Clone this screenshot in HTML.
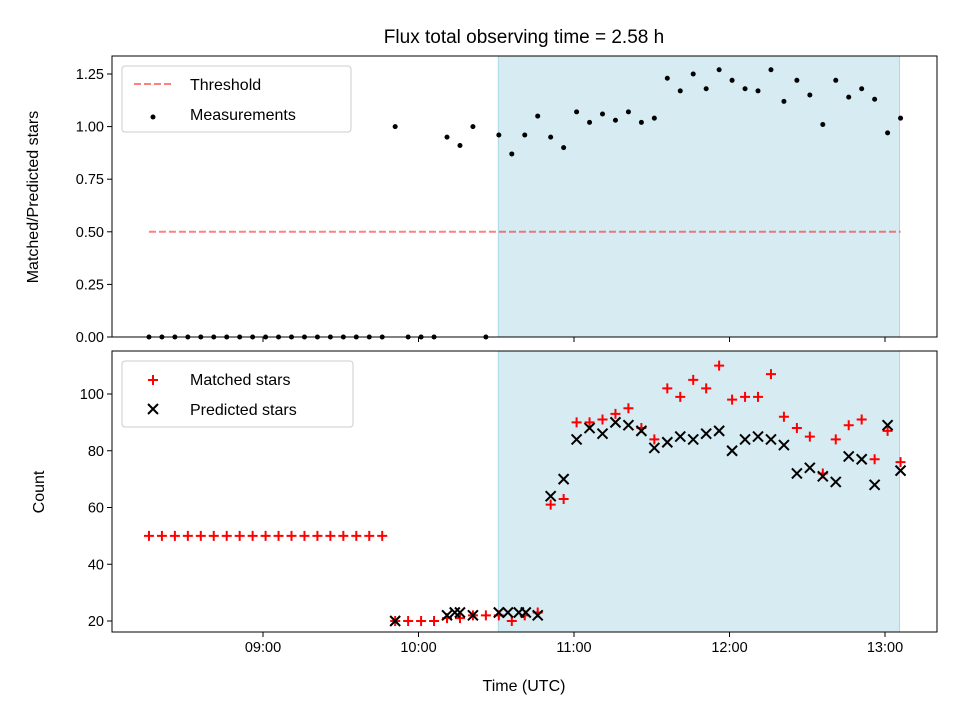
<!DOCTYPE html>
<html><head><meta charset="utf-8"><style>
body{margin:0;background:#fff;}
svg{display:block;font-family:"Liberation Sans","DejaVu Sans",sans-serif;}
</style></head><body>
<svg id="chart" width="960" height="720" viewBox="0 0 960 720"></svg>
<script>
// Times as minutes after 08:16 UTC (5-min cadence)
const ratioValues=[0,0,0,0,0,0,0,0,0,0,0,0,0,0,0,0,0,0,0,1.0,0,0,0,0.95,0.91,1.0,0,0.96,0.87,0.96,1.05,0.95,0.90,1.07,1.02,1.06,1.03,1.07,1.02,1.04,1.23,1.17,1.25,1.18,1.27,1.22,1.18,1.17,1.27,1.12,1.22,1.15,1.01,1.22,1.14,1.18,1.13,0.97,1.04];
const matchedValues=[50,50,50,50,50,50,50,50,50,50,50,50,50,50,50,50,50,50,50,20,20,20,20,21,21,22,22,22,20,22,23,61,63,90,90,91,93,95,88,84,102,99,105,102,110,98,99,99,107,92,88,85,72,84,89,91,77,87,76];
const predTimes=[95,115,118,120,125,135,138.5,142.7,145.4,150,155,160,165,170,175,180,185,190,195,200,205,210,215,220,225,230,235,240,245,250,255,260,265,270,275,280,285,290];
const predValues=[20,22,23,23,22,23,23,23,23,22,64,70,84,88,86,90,89,87,81,83,85,84,86,87,80,84,85,84,82,72,74,71,69,78,77,68,89,73];
const xTickLabels=["09:00","10:00","11:00","12:00","13:00"];
const xTickHours=[9,10,11,12,13];
const topTicks=[0,0.25,0.5,0.75,1.0,1.25];
const botTicks=[20,40,60,80,100];
const threshold=0.5;
const shadeStartMin=134.8, shadeEndMin=289.6;

const svg=document.getElementById('chart');
const NS="http://www.w3.org/2000/svg";
function mk(tag,attrs,parent){const e=document.createElementNS(NS,tag);for(const k in attrs)e.setAttribute(k,attrs[k]);(parent||svg).appendChild(e);return e;}
const L=112,R=937;
const T1=56,B1=337,T2=351,B2=632;
const xHour=h=>263+(h-9)*155.5;
const xMin=m=>xHour(8+16/60+m/60);
const yTop=v=>337-v*210.4;
const yBot=v=>621-(v-20)*2.8375;
const FS=14.5, LFS=16;

for(const [t,b,n] of [[T1,B1,'shade-top'],[T2,B2,'shade-bottom']]){
  const r=mk('rect',{x:xMin(shadeStartMin),y:t,width:xMin(shadeEndMin)-xMin(shadeStartMin),height:b-t,fill:'#add8e6','fill-opacity':0.5,stroke:'#add8e6'});
  
  
}
const th=mk('line',{x1:xMin(0),x2:xMin(290),y1:yTop(threshold),y2:yTop(threshold),stroke:'#ff0000','stroke-opacity':0.5,'stroke-width':2,'stroke-dasharray':'7,3'});


ratioValues.forEach((v,i)=>{
  const c=mk('circle',{cx:xMin(i*5),cy:yTop(v),r:2.5,fill:'#000'});
  
  
});
matchedValues.forEach((v,i)=>{
  const x=xMin(i*5),y=yBot(v);
  const g=mk('path',{d:`M${x-5},${y}H${x+5}M${x},${y-5}V${y+5}`,stroke:'#ff0000','stroke-width':2});
  
  
});
predValues.forEach((v,i)=>{
  const x=xMin(predTimes[i]),y=yBot(v);
  const g=mk('path',{d:`M${x-5},${y-5}L${x+5},${y+5}M${x-5},${y+5}L${x+5},${y-5}`,stroke:'#000','stroke-width':2});
  
  
});
for(const [t,b,n] of [[T1,B1,'top-axes-frame'],[T2,B2,'bottom-axes-frame']]){
  const r=mk('rect',{x:L,y:t,width:R-L,height:b-t,fill:'none',stroke:'#000','stroke-width':1});
  
  
}
xTickHours.forEach((h,i)=>{
  const x=xHour(h);
  mk('line',{x1:x,x2:x,y1:B1,y2:B1+5,stroke:'#000'});
  mk('line',{x1:x,x2:x,y1:B2,y2:B2+5,stroke:'#000'});
  const t=mk('text',{x:x,y:B2+20,'text-anchor':'middle','font-size':FS});
  t.textContent=xTickLabels[i];
  
  
});
topTicks.forEach(v=>{
  const y=yTop(v);
  mk('line',{x1:L-5,x2:L,y1:y,y2:y,stroke:'#000'});
  const t=mk('text',{x:L-8,y:y+5,'text-anchor':'end','font-size':FS});
  t.textContent=v.toFixed(2);
  
  
});
botTicks.forEach(v=>{
  const y=yBot(v);
  mk('line',{x1:L-5,x2:L,y1:y,y2:y,stroke:'#000'});
  const t=mk('text',{x:L-8,y:y+5,'text-anchor':'end','font-size':FS});
  t.textContent=v;
  
  
});
function txt(s,attrs,name){const t=mk('text',attrs);t.textContent=s;return t;}
txt('Flux total observing time = 2.58 h',{x:524,y:43,'text-anchor':'middle','font-size':19},'chart-title');
txt('Time (UTC)',{x:524,y:691,'text-anchor':'middle','font-size':LFS},'x-axis-title');
txt('Matched/Predicted stars',{x:38,y:197,'text-anchor':'middle','font-size':LFS,transform:'rotate(-90 38 197)'},'top-y-axis-title');
txt('Count',{x:44,y:492,'text-anchor':'middle','font-size':LFS,transform:'rotate(-90 44 492)'},'bottom-y-axis-title');
const lg1=mk('rect',{x:122,y:66,width:229,height:66,rx:3,fill:'#fff','fill-opacity':0.8,stroke:'#ccc'});


mk('line',{x1:134,x2:174,y1:84,y2:84,stroke:'#ff0000','stroke-opacity':0.5,'stroke-width':2,'stroke-dasharray':'7,3'});
txt('Threshold',{x:190,y:90,'font-size':LFS},'legend-threshold');
mk('circle',{cx:153,cy:117,r:2.5,fill:'#000'});
txt('Measurements',{x:190,y:120,'font-size':LFS},'legend-measurements');
const lg2=mk('rect',{x:122,y:361,width:231,height:66,rx:3,fill:'#fff','fill-opacity':0.8,stroke:'#ccc'});


mk('path',{d:'M148,380H158M153,375V385',stroke:'#ff0000','stroke-width':2});
txt('Matched stars',{x:190,y:385,'font-size':LFS},'legend-matched');
mk('path',{d:'M148,404L158,414M148,414L158,404',stroke:'#000','stroke-width':2});
txt('Predicted stars',{x:190,y:415,'font-size':LFS},'legend-predicted');
</script>
</body></html>
